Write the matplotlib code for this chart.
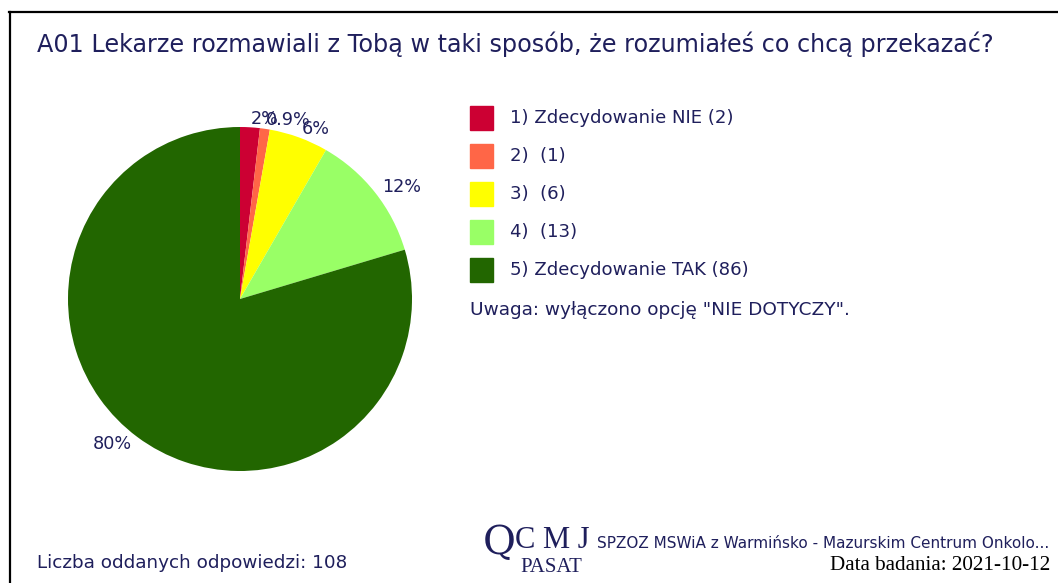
import matplotlib
matplotlib.use("Agg")
import matplotlib.pyplot as plt
from matplotlib.patches import Rectangle
from matplotlib.lines import Line2D

W, H = 1058, 583

title = "A01 Lekarze rozmawiali z Tobą w taki sposób, że rozumiałeś co chcą przekazać?"
categories = ["1) Zdecydowanie NIE", "2) ", "3) ", "4) ", "5) Zdecydowanie TAK"]
counts = [2, 1, 6, 13, 86]
colors = ["#cc0033", "#ff6647", "#ffff00", "#99ff66", "#226600"]
note = 'Uwaga: wyłączono opcję "NIE DOTYCZY".'
footer_left = "Liczba oddanych odpowiedzi: 108"
footer_org = "SPZOZ MSWiA z Warmińsko - Mazurskim Centrum Onkolo..."
footer_date = "Data badania: 2021-10-12"

txt = "#1f1f5c"


def fx(px):
    return px / W


def fy(py):
    return 1 - py / H


total = sum(counts)
pcts = []
for c in counts:
    p = 100.0 * c / total
    pcts.append("{:.1f}%".format(p) if p < 1 else "{:.0f}%".format(p))

fig = plt.figure(figsize=(W / 100, H / 100), dpi=100)

# frame (top and left edges visible)
fig.add_artist(Line2D([fx(9), fx(W)], [fy(12), fy(12)], color="black", lw=1.6))
fig.add_artist(Line2D([fx(9.5), fx(9.5)], [fy(12), fy(H)], color="black", lw=1.6))

fig.text(fx(37), fy(44), title, fontsize=17.2, color=txt, va="center", ha="left")

# pie
cx, cy, r = 240, 299, 172
ax = fig.add_axes([fx(cx - r), fy(cy + r), 2 * r / W, 2 * r / H])
wedges, texts = ax.pie(counts, colors=colors, labels=pcts, startangle=90,
                       counterclock=False, labeldistance=1.05,
                       textprops=dict(color=txt, fontsize=12.7))
ax.set_xlim(-1, 1)
ax.set_ylim(-1, 1)
ax.axis("off")

# legend
for i, (cat, n, col) in enumerate(zip(categories, counts, colors)):
    y = 118 + i * 38
    fig.add_artist(Rectangle((fx(470), fy(y + 12)), 23 / W, 24 / H,
                             transform=fig.transFigure, color=col))
    fig.text(fx(510), fy(y), "{} ({})".format(cat, n), fontsize=13.1,
             color=txt, va="center", ha="left")
fig.text(fx(470), fy(310), note, fontsize=13.3, color=txt, va="center", ha="left")

# footer
fig.text(fx(37), fy(563), footer_left, fontsize=13.2, color=txt, va="center", ha="left")
fig.text(fx(483), fy(544), "Q", fontsize=29, family="DejaVu Serif", color=txt,
         va="center", ha="left")
fig.text(fx(515), fy(541), "C M J", fontsize=22, family="Liberation Serif", color=txt,
         va="center", ha="left")
fig.text(fx(520), fy(568), "PASAT", fontsize=15, family="Liberation Serif", color=txt,
         va="center", ha="left")
fig.text(fx(597), fy(543), footer_org, fontsize=11.0, color=txt, va="center", ha="left")
fig.text(fx(1050), fy(566), footer_date, fontsize=15.2, family="Liberation Serif",
         color="black", va="center", ha="right")

fig.savefig("out.png", dpi=100)
